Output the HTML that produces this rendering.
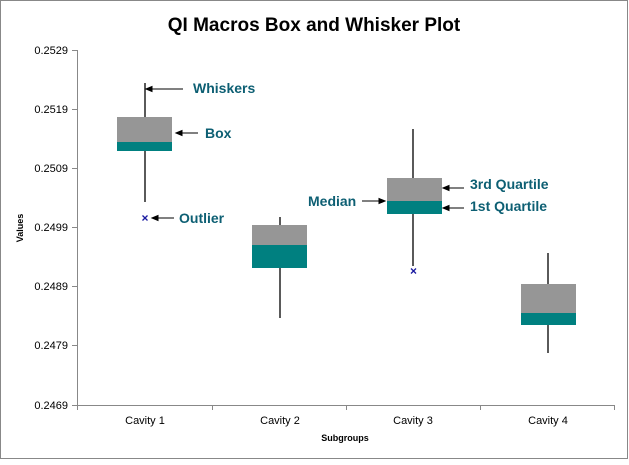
<!DOCTYPE html>
<html><head><style>body{margin:0;background:#fff}</style></head><body>
<svg width="629" height="460" xmlns="http://www.w3.org/2000/svg" font-family="Liberation Sans, sans-serif">
<rect x="0.5" y="0.5" width="627" height="458" fill="#fff" stroke="#888"/>
<text x="314" y="31" text-anchor="middle" font-size="19" font-weight="bold">QI Macros Box and Whisker Plot</text>
<g stroke="#888" stroke-width="1">
<line x1="77.5" y1="50" x2="77.5" y2="405"/>
<line x1="77" y1="405.5" x2="614" y2="405.5"/>
<line x1="72" y1="50.5" x2="77" y2="50.5"/><line x1="72" y1="109.5" x2="77" y2="109.5"/><line x1="72" y1="168.5" x2="77" y2="168.5"/><line x1="72" y1="227.5" x2="77" y2="227.5"/><line x1="72" y1="286.5" x2="77" y2="286.5"/><line x1="72" y1="345.5" x2="77" y2="345.5"/><line x1="72" y1="405.5" x2="77" y2="405.5"/>
<line x1="77.5" y1="405" x2="77.5" y2="410"/><line x1="212.5" y1="405" x2="212.5" y2="410"/><line x1="346.5" y1="405" x2="346.5" y2="410"/><line x1="480.5" y1="405" x2="480.5" y2="410"/><line x1="614.5" y1="405" x2="614.5" y2="410"/>
</g>
<g font-size="11" text-anchor="end" fill="#000">
<text x="68" y="54">0.2529</text><text x="68" y="113">0.2519</text><text x="68" y="172">0.2509</text><text x="68" y="231">0.2499</text><text x="68" y="290">0.2489</text><text x="68" y="349">0.2479</text><text x="68" y="409">0.2469</text>
</g>
<g font-size="11" text-anchor="middle">
<text x="145" y="424">Cavity 1</text><text x="280" y="424">Cavity 2</text><text x="413" y="424">Cavity 3</text><text x="548" y="424">Cavity 4</text>
</g>
<text x="345" y="441" text-anchor="middle" font-size="9" font-weight="bold">Subgroups</text>
<text transform="translate(23,228) rotate(-90)" text-anchor="middle" font-size="9" font-weight="bold">Values</text>
<g stroke="#000" stroke-width="1.3">
<line x1="145" y1="83" x2="145" y2="202"/>
<line x1="280" y1="217" x2="280" y2="318"/>
<line x1="413" y1="129" x2="413" y2="266"/>
<line x1="548" y1="253" x2="548" y2="353"/>
</g>
<rect x="117" y="117" width="55" height="25" fill="#969696"/><rect x="117" y="142" width="55" height="9" fill="#008080"/>
<rect x="252" y="225" width="55" height="20" fill="#969696"/><rect x="252" y="245" width="55" height="23" fill="#008080"/>
<rect x="387" y="178" width="55" height="23" fill="#969696"/><rect x="387" y="201" width="55" height="13" fill="#008080"/>
<rect x="521" y="284" width="55" height="29" fill="#969696"/><rect x="521" y="313" width="55" height="12" fill="#008080"/>
<g stroke="#1a1aa0" stroke-width="1.3">
<path d="M142.5 215.5 L147.5 220.5 M147.5 215.5 L142.5 220.5"/>
<path d="M411 268.5 L416 273.5 M416 268.5 L411 273.5"/>
</g>
<g stroke="#000" stroke-width="1">
<line x1="149" y1="89" x2="183" y2="89"/><polygon points="146,89 152,86.5 152,91.5"/>
<line x1="179" y1="133" x2="198" y2="133"/><polygon points="176,133 182,130.5 182,135.5"/>
<line x1="155" y1="218" x2="174" y2="218"/><polygon points="152,218 158,215.5 158,220.5"/>
<line x1="362" y1="201" x2="381" y2="201"/><polygon points="385,201 379,198.5 379,203.5"/>
<line x1="447" y1="188" x2="464" y2="188"/><polygon points="443,188 449,185.5 449,190.5"/>
<line x1="447" y1="208" x2="464" y2="208"/><polygon points="443,208 449,205.5 449,210.5"/>
</g>
<g fill="#0d5f73" font-size="14" font-weight="bold">
<text x="193" y="93">Whiskers</text><text x="205" y="138">Box</text><text x="179" y="223">Outlier</text>
<text x="308" y="206">Median</text><text x="470" y="189">3rd Quartile</text><text x="470" y="211">1st Quartile</text>
</g>
</svg>
</body></html>
